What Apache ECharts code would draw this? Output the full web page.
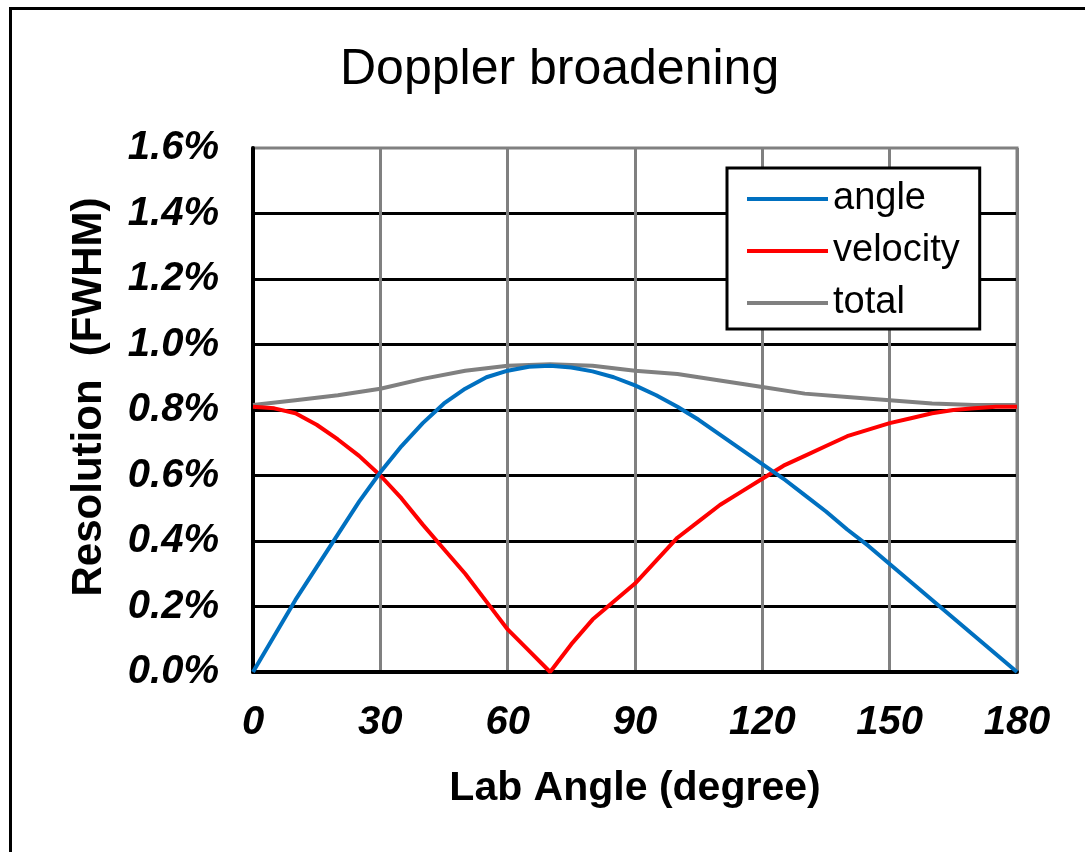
<!DOCTYPE html>
<html>
<head>
<meta charset="utf-8">
<script src="https://cdn.jsdelivr.net/npm/echarts@6/dist/echarts.min.js"></script>
<style>
html,body{margin:0;padding:0;background:#fff;}
#chart{width:1085px;height:852px;}
</style>
</head>
<body>
<div id="chart"></div>
<script>
var labAngles = [0,5,10,15,20,25,30,35,40,45,50,55,60,65,70,75,80,85,90,95,100,105,110,115,120,125,130,135,140,145,150,155,160,165,170,175,180];
var angleRes = [0,0.11,0.22,0.32,0.42,0.52,0.61,0.69,0.76,0.82,0.865,0.90,0.92,0.932,0.935,0.93,0.918,0.90,0.875,0.845,0.81,0.77,0.725,0.68,0.635,0.59,0.54,0.49,0.435,0.385,0.33,0.275,0.22,0.165,0.11,0.055,0];
var velocityRes = [0.81,0.805,0.79,0.755,0.71,0.66,0.60,0.53,0.45,0.375,0.30,0.215,0.13,0.065,0.00,0.085,0.16,0.215,0.27,0.34,0.41,0.46,0.51,0.55,0.59,0.63,0.66,0.69,0.72,0.74,0.76,0.775,0.79,0.80,0.805,0.81,0.81];
var totalAngles = [0,10,20,30,40,50,60,70,80,90,100,110,120,130,140,150,160,170,180];
var totalRes = [0.815,0.83,0.845,0.865,0.895,0.92,0.935,0.94,0.935,0.92,0.91,0.89,0.87,0.85,0.84,0.83,0.82,0.815,0.815];
var seriesNames = ['angle','velocity','total'];
var seriesColors = ['#0070C0','#FF0000','#808080'];

function pairs(xs, ys){ return xs.map(function(x,i){ return [x, ys[i]]; }); }
var FONT = 'Arial, "Liberation Sans", sans-serif';
var chart = echarts.init(document.getElementById('chart'), null, {renderer:'canvas'});
var seriesData = [pairs(labAngles, angleRes), pairs(labAngles, velocityRes), pairs(totalAngles, totalRes)];
chart.setOption({
  animation:false,
  backgroundColor:'#fff',
  title:{
    text:'Doppler broadening',
    left:335, top:40,
    textStyle:{fontFamily:FONT, fontSize:50, fontWeight:'normal', color:'#000'}
  },
  graphic:[{
    type:'rect', shape:{x:10.5, y:8.5, width:2000, height:2000},
    style:{fill:'none', stroke:'#000', lineWidth:3}, z:-1
  }],
  grid:{left:253, right:68, top:148, bottom:180, show:true, borderColor:'#808080', borderWidth:3, backgroundColor:'transparent'},
  legend:{
    orient:'vertical', left:727, top:168,
    data:seriesNames,
    icon:'rect', itemWidth:81, itemHeight:4, itemGap:14,
    padding:[12,20,7,20],
    borderColor:'#000', borderWidth:3, backgroundColor:'#fff',
    textStyle:{fontFamily:FONT, fontSize:38, color:'#000'}
  },
  xAxis:{
    type:'value', min:0, max:180, interval:30,
    name:'Lab Angle (degree)', nameLocation:'middle', nameGap:96,
    nameTextStyle:{fontFamily:FONT, fontSize:41, fontWeight:'bold', color:'#000'},
    axisLine:{show:true, onZero:false, lineStyle:{color:'#000', width:4}},
    axisTick:{show:false},
    axisLabel:{fontFamily:FONT, fontSize:40, fontWeight:'bold', fontStyle:'italic', color:'#000', margin:31},
    splitLine:{show:true, lineStyle:{color:'#808080', width:3}}
  },
  yAxis:{
    type:'value', min:0, max:1.6, interval:0.2,
    name:'Resolution  (FWHM)', nameLocation:'middle', nameGap:143, nameRotate:90,
    nameTextStyle:{fontFamily:FONT, fontSize:42, fontWeight:'bold', color:'#000', padding:[0,0,0,26]},
    axisLine:{show:true, onZero:false, lineStyle:{color:'#000', width:4}},
    axisTick:{show:false},
    axisLabel:{fontFamily:FONT, fontSize:40, fontWeight:'bold', fontStyle:'italic', color:'#000', margin:34,
      formatter:function(v){ return v.toFixed(1)+'%'; }},
    splitLine:{show:true, showMaxLine:false, lineStyle:{color:'#000', width:3}}
  },
  series: seriesNames.map(function(n,i){
    return {
      name:n, type:'line', data:seriesData[i],
      symbol:'none', smooth:false,
      lineStyle:{color:seriesColors[i], width:4},
      itemStyle:{color:seriesColors[i]},
      z: 3 - i
    };
  })
});
</script>
</body>
</html>
